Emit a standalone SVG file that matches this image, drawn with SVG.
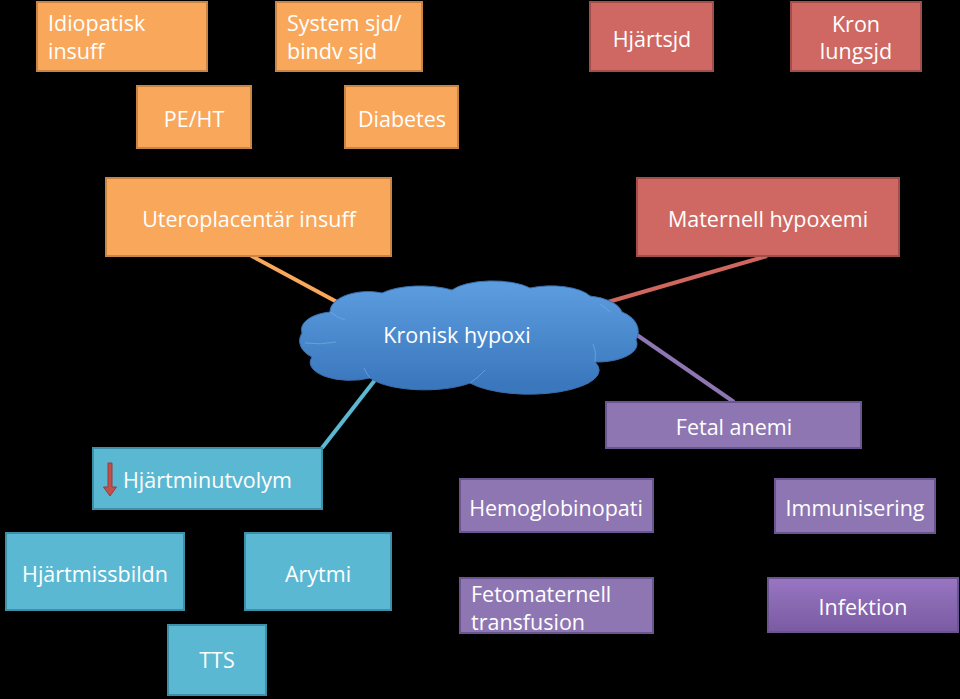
<svg xmlns="http://www.w3.org/2000/svg" width="960" height="699" viewBox="0 0 960 699">
<defs>
<linearGradient id="cloudGrad" gradientUnits="userSpaceOnUse" x1="0" y1="287" x2="0" y2="384">
<stop offset="0" stop-color="#5B9CDE"/>
<stop offset="1" stop-color="#3B77BD"/>
</linearGradient>
<linearGradient id="purpGrad" x1="0" y1="0" x2="0" y2="1">
<stop offset="0" stop-color="#9876C2"/>
<stop offset="1" stop-color="#7A5BA2"/>
</linearGradient>
<style>
.o{fill:#F9A75B;stroke:#C98544;stroke-width:2}
.r{fill:#CF6862;stroke:#A44E49;stroke-width:2}
.a{fill:#5BB8D2;stroke:#3E90A9;stroke-width:2}
.p{fill:#8E76B2;stroke:#6A5590;stroke-width:2}
.pg{fill:url(#purpGrad);stroke:#6A5590;stroke-width:2}
text{font-family:"Open Sans","Liberation Sans",sans-serif;font-size:21.5px;fill:#FFFFFF}
.c{text-anchor:middle}
.ln{stroke-width:4;stroke-linecap:butt;fill:none}
</style>
</defs>
<rect width="960" height="699" fill="#000000"/>

<g id="connectors">
<line class="ln" x1="250" y1="255" x2="337" y2="302" stroke="#F9A75B"/>
<line class="ln" x1="767" y1="256" x2="608" y2="302" stroke="#D0675F"/>
<line class="ln" x1="637" y1="335" x2="734" y2="402" stroke="#8E76B2"/>
<line class="ln" x1="375" y1="380" x2="322" y2="448" stroke="#5BB8D2"/>
</g>

<g id="idiopatisk">
<rect class="o" x="37" y="2" width="170" height="69"/>
<text x="48" y="31">Idiopatisk</text>
<text x="48" y="59">insuff</text>
</g>
<g id="system">
<rect class="o" x="276" y="2" width="146" height="69"/>
<text x="287" y="31">System sjd/</text>
<text x="287" y="59">bindv sjd</text>
</g>
<g id="hjartsjd">
<rect class="r" x="590" y="2" width="123" height="69"/>
<text class="c" x="652" y="47">Hjärtsjd</text>
</g>
<g id="kron">
<rect class="r" x="791" y="2" width="130" height="69"/>
<text class="c" x="856" y="32">Kron</text>
<text class="c" x="856" y="59">lungsjd</text>
</g>
<g id="peht">
<rect class="o" x="137" y="86" width="114" height="62"/>
<text class="c" x="194" y="127">PE/HT</text>
</g>
<g id="diabetes">
<rect class="o" x="345" y="86" width="113" height="62"/>
<text class="c" x="402" y="127">Diabetes</text>
</g>
<g id="utero">
<rect class="o" x="106" y="178" width="285" height="78"/>
<text class="c" x="249" y="227">Uteroplacentär insuff</text>
</g>
<g id="maternell">
<rect class="r" x="637" y="178" width="262" height="78"/>
<text class="c" x="768" y="227">Maternell hypoxemi</text>
</g>

<g id="cloud">
<path d="M 330 312 A 38 20 0 0 1 382 293 A 48 17 0 0 1 452 290 A 45 16 0 0 1 530 288 A 42 16 0 0 1 590 296 A 40 20 0 0 1 622 312 A 30 22 0 0 1 636 340 A 40 18 0 0 1 595 362 A 70 24 0 0 1 470 383 A 60 20 0 0 1 370 378 A 40 18 0 0 1 312 357 A 30 20 0 0 1 302 333 A 35 18 0 0 1 330 312 Z" fill="url(#cloudGrad)" stroke="#3A6FAE" stroke-width="1"/>
<path d="M 330 312 Q 338 318 345 320 M 305 343 Q 320 345 336 342 M 595 362 Q 597 352 593 344 M 470 383 Q 478 378 485 370 M 370 378 Q 366 373 364 368 M 600 304 Q 606 308 610 312" fill="none" stroke="#7FB0E6" stroke-width="1" opacity="0.6"/>
<text class="c" x="457" y="343">Kronisk hypoxi</text>
</g>

<g id="fetalanemi">
<rect class="p" x="606" y="402" width="255" height="46"/>
<text class="c" x="734" y="435">Fetal anemi</text>
</g>
<g id="hjartminutvolym">
<rect class="a" x="93" y="448" width="229" height="61"/>
<path d="M 108 463 L 112 463 L 112 487 L 116.5 487 L 110 496 L 103.5 487 L 108 487 Z" fill="#C0504D" stroke="#9A3D3A" stroke-width="1"/>
<text x="123" y="488">Hjärtminutvolym</text>
</g>
<g id="hemoglobinopati">
<rect class="p" x="460" y="479" width="193" height="53"/>
<text class="c" x="556" y="516">Hemoglobinopati</text>
</g>
<g id="immunisering">
<rect class="p" x="775" y="479" width="160" height="54"/>
<text class="c" x="855" y="516">Immunisering</text>
</g>
<g id="hjartmissbildn">
<rect class="a" x="6" y="533" width="178" height="77"/>
<text class="c" x="95" y="582">Hjärtmissbildn</text>
</g>
<g id="arytmi">
<rect class="a" x="245" y="533" width="146" height="77"/>
<text class="c" x="318" y="582">Arytmi</text>
</g>
<g id="tts">
<rect class="a" x="168" y="625" width="98" height="70"/>
<text class="c" x="217" y="668">TTS</text>
</g>
<g id="fetomaternell">
<rect class="p" x="460" y="578" width="193" height="55"/>
<text x="471" y="602">Fetomaternell</text>
<text x="471" y="630">transfusion</text>
</g>
<g id="infektion">
<rect class="pg" x="768" y="578" width="190" height="54"/>
<text class="c" x="863" y="615">Infektion</text>
</g>
</svg>
